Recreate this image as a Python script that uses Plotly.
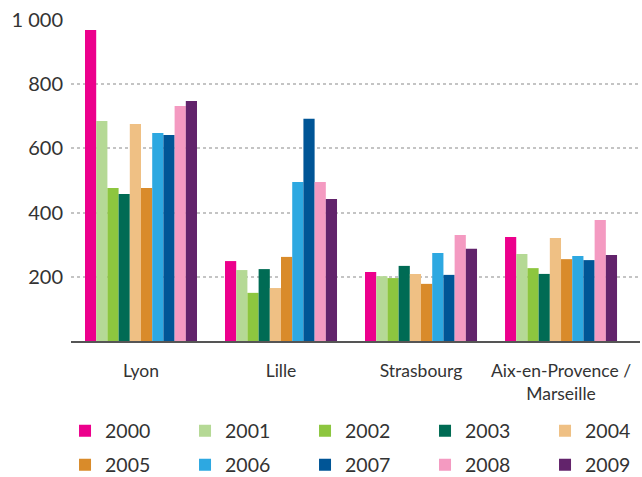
import plotly.graph_objects as go

cities = ["Lyon", "Lille", "Strasbourg", "Aix-en-Provence /<br>Marseille"]
years = ["2000", "2001", "2002", "2003", "2004", "2005", "2006", "2007", "2008", "2009"]
values = {
    "2000": [969, 249, 215, 324],
    "2001": [685, 221, 202, 271],
    "2002": [477, 150, 196, 227],
    "2003": [458, 224, 234, 209],
    "2004": [676, 165, 209, 321],
    "2005": [477, 262, 178, 255],
    "2006": [648, 495, 274, 265],
    "2007": [642, 692, 206, 252],
    "2008": [732, 495, 330, 377],
    "2009": [748, 442, 287, 268],
}
colors = ["#EC008C", "#B5D995", "#8DC63F", "#006B54", "#EFC084",
          "#D98B2A", "#2DA8E1", "#005596", "#F49AC1", "#62236B"]
tick_vals = [200, 400, 600, 800, 1000]
tick_text = ["200", "400", "600", "800", "1 000"]

FONT = "Lato"
TXT = "#333333"
fig = go.Figure()
for i, (y, c) in enumerate(zip(years, colors)):
    fig.add_trace(go.Bar(x=cities, y=values[y], name=y, marker_color=c,
                         marker_line_width=0,
                         legend="legend" if i < 5 else "legend2"))

leg_common = dict(orientation="h", xanchor="left", yanchor="middle",
                  entrywidth=75, entrywidthmode="pixels",
                  font=dict(family=FONT, size=19.5, color=TXT),
                  traceorder="normal", itemclick=False, bgcolor="rgba(0,0,0,0)")

fig.update_layout(
    width=642, height=477,
    margin=dict(l=71, r=2, t=20, b=136, autoexpand=False),
    paper_bgcolor="white", plot_bgcolor="white",
    barmode="group", bargap=0.2, bargroupgap=0,
    font=dict(family=FONT, size=17, color=TXT),
    showlegend=True,
    legend=dict(x=-0.0105, y=(341 - 431) / 321, **leg_common),
    legend2=dict(x=-0.0105, y=(341 - 465) / 321, **leg_common),
)
fig.update_xaxes(range=[-0.5, 3.564], showgrid=False, showline=True,
                 linecolor="#555555", linewidth=2, ticks="", ticklabelstandoff=13,
                 automargin=False,
                 tickfont=dict(family=FONT, size=17.5, color=TXT))
fig.update_yaxes(range=[0, 1000], tickvals=tick_vals, ticktext=tick_text,
                 showgrid=True, gridcolor="#c4c4c4", griddash="dot", gridwidth=1.5,
                 zeroline=False, showline=False, ticks="", ticklabelstandoff=7,
                 automargin=False,
                 tickfont=dict(family=FONT, size=20, color=TXT))

fig.write_html("out.html", config={"displayModeBar": False},
               post_script="document.body.style.margin='0';document.body.style.overflow='hidden';")
